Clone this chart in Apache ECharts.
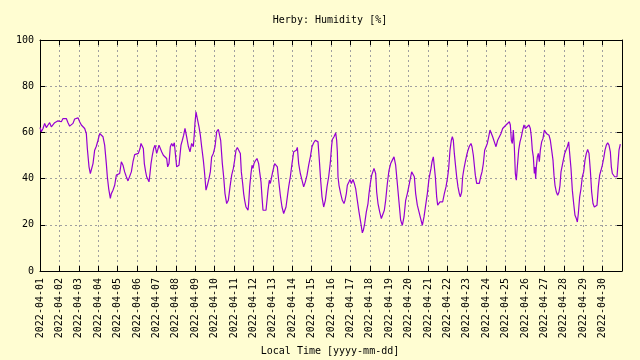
<!DOCTYPE html>
<html><head><meta charset="utf-8">
<script src="https://cdn.jsdelivr.net/npm/echarts@6/dist/echarts.min.js"></script>
<style>html,body{margin:0;padding:0;background:#fffdd2}#c{width:640px;height:360px}</style>
</head><body><div id="c"></div>
<script>
const chartTitle = 'Herby: Humidity [%]';
const xAxisTitle = 'Local Time [yyyy-mm-dd]';
const dateLabels = ['2022-04-01','2022-04-02','2022-04-03','2022-04-04','2022-04-05','2022-04-06','2022-04-07','2022-04-08','2022-04-09','2022-04-10','2022-04-11','2022-04-12','2022-04-13','2022-04-14','2022-04-15','2022-04-16','2022-04-17','2022-04-18','2022-04-19','2022-04-20','2022-04-21','2022-04-22','2022-04-23','2022-04-24','2022-04-25','2022-04-26','2022-04-27','2022-04-28','2022-04-29','2022-04-30'];
const yTicks = [0, 20, 40, 60, 80, 100];
// time in days since 2022-04-01 00:00
const days = [
0,0.069,0.155,0.24,0.326,0.412,0.498,0.584,0.67,0.756,0.842,0.928,1.014,1.1,1.186,1.272,1.357,1.443,1.529,1.615,1.701,1.787,1.873,1.959,2.045,2.131,2.217,2.303,2.388,2.44,2.474,2.526,2.595,2.68,2.732,2.818,2.904,2.99,3.076,3.162,3.248,3.333,3.419,3.471,3.54,3.626,3.677,3.763,3.849,3.935,4.021,4.107,4.193,4.278,4.364,4.45,4.536,4.622,4.708,4.794,4.88,4.966,
5.069,5.155,5.206,5.275,5.327,5.378,5.447,5.498,5.55,5.619,5.67,5.722,5.79,5.859,5.928,6.014,6.065,6.134,6.203,6.271,6.357,6.443,6.529,6.581,6.649,6.718,6.787,6.856,6.924,6.976,7.045,7.096,7.165,7.216,7.268,7.337,7.405,7.474,7.56,7.646,7.732,7.818,7.904,7.955,7.99,8.041,8.11,8.196,8.265,8.333,8.419,8.471,8.557,8.626,8.711,8.78,8.849,8.935,9.021,9.107,9.193,9.244,9.313,9.399,9.467,9.536,9.622,9.708,9.794,9.88,9.966,
10.034,10.103,10.172,10.275,10.327,10.378,10.447,10.498,10.55,10.619,10.67,10.722,10.756,10.808,10.876,10.928,10.979,11.031,11.1,11.186,11.271,11.323,11.392,11.443,11.495,11.564,11.65,11.701,11.753,11.821,11.873,11.924,11.993,12.045,12.096,12.165,12.234,12.302,12.388,12.474,12.56,12.612,12.68,12.749,12.818,12.904,12.99,13.076,13.127,13.213,13.265,13.333,13.419,13.505,13.591,13.677,13.763,13.849,13.935,14.021,14.107,14.193,14.278,14.33,14.399,14.467,14.536,14.622,14.708,14.794,14.88,14.966,15.03,
15.069,15.155,15.241,15.292,15.327,15.361,15.412,15.498,15.584,15.67,15.722,15.79,15.842,15.928,15.979,16.048,16.134,16.203,16.271,16.357,16.443,16.529,16.615,16.667,16.735,16.821,16.907,16.959,17.028,17.096,17.165,17.216,17.268,17.302,17.354,17.423,17.509,17.595,17.68,17.749,17.818,17.904,17.99,18.076,18.162,18.247,18.333,18.419,18.505,18.591,18.677,18.763,18.849,18.935,19.021,19.107,19.158,19.227,19.296,19.364,19.45,19.536,19.622,19.708,19.794,19.88,19.966,20.052,
20.155,20.206,20.275,20.327,20.378,20.447,20.498,20.55,20.619,20.687,20.756,20.842,20.928,21.014,21.065,21.134,21.203,21.254,21.306,21.357,21.409,21.478,21.546,21.615,21.667,21.735,21.787,21.856,21.924,21.993,22.062,22.131,22.216,22.268,22.337,22.388,22.44,22.509,22.577,22.646,22.715,22.784,22.852,22.921,22.99,23.058,23.127,23.196,23.265,23.333,23.419,23.505,23.591,23.677,23.763,23.849,23.935,24.021,24.107,24.193,24.244,24.296,24.347,24.399,24.45,24.502,24.553,24.605,24.674,24.742,24.811,24.88,24.948,25.017,
25.103,25.206,25.275,25.327,25.378,25.43,25.481,25.515,25.55,25.584,25.636,25.687,25.739,25.79,25.859,25.928,25.997,26.048,26.1,26.168,26.237,26.306,26.375,26.443,26.495,26.546,26.615,26.684,26.753,26.804,26.856,26.924,26.993,27.045,27.113,27.182,27.251,27.32,27.371,27.44,27.509,27.577,27.646,27.698,27.749,27.818,27.887,27.955,28.024,28.093,28.162,28.23,28.299,28.368,28.436,28.505,28.574,28.643,28.711,28.78,28.849,28.918,28.986,29.055,29.124,29.192,29.261,29.33,29.399,29.45,29.502,29.571,29.622,29.674,29.742,29.794,29.845,29.914,29.948
];
const humidity = [
62.1,60.3,61.7,63.9,62.1,63.2,64.2,62.4,62.7,64.2,65.0,65.0,64.2,64.6,66.0,66.8,66.0,64.2,62.7,63.2,63.9,65.8,66.0,66.3,64.6,63.2,63.6,61.7,59.5,53.0,52.3,45.1,42.2,42.5,46.5,52.3,54.0,56.6,59.5,59.8,58.1,54.5,46.5,40.8,35.7,31.4,33.5,35.0,37.1,41.5,42.2,42.2,47.3,45.8,42.9,40.8,39.0,39.3,42.9,47.3,50.4,50.1,
50.9,53.0,55.2,55.2,53.0,46.5,42.9,40.8,41.5,38.6,42.2,46.5,50.1,53.0,54.5,50.9,52.3,54.5,54.9,51.6,50.1,50.9,48.7,45.1,46.5,53.8,55.2,54.0,55.5,50.9,45.1,44.4,45.8,50.1,54.5,56.6,58.8,61.7,58.1,54.0,51.6,55.2,53.8,59.5,64.2,68.9,66.0,62.4,58.8,53.8,48.0,43.6,35.0,37.1,40.0,42.9,49.4,50.9,53.8,60.3,61.3,61.7,56.6,46.5,40.8,33.5,29.2,30.6,36.4,41.5,44.4,
48.0,52.3,53.5,54.3,50.9,42.9,37.9,33.5,30.6,27.7,27.0,26.3,29.2,36.4,42.2,45.8,44.4,46.5,47.7,48.7,46.5,42.9,38.6,32.1,26.3,25.6,26.3,30.6,35.0,39.3,37.9,40.0,42.9,42.9,46.5,45.8,45.1,39.3,32.8,27.7,24.9,25.6,27.7,32.1,36.4,40.8,46.5,51.6,52.3,52.3,53.5,46.5,42.2,39.3,36.4,38.6,41.5,45.8,49.4,53.8,55.5,56.6,57.4,55.9,48.0,39.3,32.1,27.7,30.6,36.4,40.8,47.0,54.0,
56.9,58.1,59.8,56.6,51.6,40.8,37.1,33.5,30.6,29.2,30.6,33.5,37.1,38.6,39.6,37.9,39.6,37.9,35.7,30.6,25.6,21.2,16.5,17.6,20.5,25.6,29.2,33.5,37.9,41.5,42.2,44.4,45.1,42.2,34.2,29.2,25.6,22.7,22.7,26.3,30.6,37.9,43.6,46.5,48.0,49.4,45.8,37.9,29.9,22.0,19.8,23.4,30.6,33.5,37.1,37.9,42.9,43.6,40.8,33.5,28.5,25.6,22.7,19.8,23.4,28.5,33.5,40.0,
44.4,47.3,49.4,45.1,40.8,32.1,28.5,28.5,29.9,30.6,29.9,33.5,36.4,40.8,44.4,52.3,56.6,58.1,56.6,50.9,46.5,40.8,36.4,33.5,32.1,34.2,40.8,44.4,47.3,50.1,52.3,54.0,55.2,53.8,50.1,45.8,41.5,37.9,38.6,37.9,40.8,42.9,46.5,52.3,51.6,55.2,58.1,61.0,61.7,58.1,55.9,53.8,56.6,57.4,59.5,61.7,62.1,63.2,63.9,64.6,63.2,56.6,55.2,61.0,53.8,42.2,39.3,45.1,52.3,55.9,58.1,61.0,63.2,61.7,
61.7,63.2,61.7,58.1,52.3,49.4,42.2,45.0,40.0,45.1,49.4,50.9,47.3,52.3,55.9,57.4,61.0,61.7,59.5,60.3,58.8,56.6,52.3,48.0,41.5,37.1,34.2,32.8,34.2,37.1,42.9,45.8,46.5,50.9,51.6,53.8,55.9,55.2,44.4,35.0,29.2,24.1,22.7,21.2,24.9,32.1,35.7,40.8,42.9,48.0,50.9,52.6,50.9,43.6,34.2,29.2,27.7,27.0,28.5,36.4,41.5,43.6,45.8,48.7,52.3,54.5,55.5,54.5,51.6,45.1,42.2,42.9,40.8,41.5,40.8,46.5,52.3,54.9,54.9
];

const seriesData = days.map((d, i) => [d, humidity[i]]);
const FONT = 'DejaVu Sans Mono';
const chart = echarts.init(document.getElementById('c'), null, {renderer: 'canvas'});
const gridLine = {show: true, lineStyle: {color: '#a0a0a0', width: 1, type: [2, 3]}};
chart.setOption({
  backgroundColor: '#fffdd2',
  animation: false,
  grid: {left: 40, right: 18, top: 40, bottom: 89, show: false},
  graphic: [
    {type: 'text', x: 330, y: 20, style: {text: chartTitle, align: 'center', verticalAlign: 'middle', fontFamily: FONT, fontSize: 10, fill: '#000'}},
    {type: 'text', x: 330, y: 351, style: {text: xAxisTitle, align: 'center', verticalAlign: 'middle', fontFamily: FONT, fontSize: 10, fill: '#000'}}
  ],
  xAxis: [
    {type: 'value', min: 0, max: dateLabels.length, interval: 1, position: 'bottom',
     axisLine: {show: true, onZero: false, lineStyle: {color: '#000', width: 1}},
     axisTick: {show: true, inside: true, length: 5, lineStyle: {color: '#000'}},
     axisLabel: {rotate: 90, margin: 7, fontFamily: FONT, fontSize: 10, color: '#000', showMaxLabel: false,
       formatter: v => dateLabels[Math.round(v)] || ''},
     splitLine: gridLine},
    {type: 'value', min: 0, max: dateLabels.length, interval: 1, position: 'top',
     axisLine: {show: true, onZero: false, lineStyle: {color: '#000', width: 1}},
     axisTick: {show: true, inside: true, length: 5, lineStyle: {color: '#000'}},
     axisLabel: {show: false}, splitLine: {show: false}}
  ],
  yAxis: [
    {type: 'value', min: yTicks[0], max: yTicks[yTicks.length - 1], interval: yTicks[1] - yTicks[0], position: 'left',
     axisLine: {show: true, onZero: false, lineStyle: {color: '#000', width: 1}},
     axisTick: {show: true, inside: true, length: 5, lineStyle: {color: '#000'}},
     axisLabel: {margin: 6, fontFamily: FONT, fontSize: 10, color: '#000'},
     splitLine: gridLine},
    {type: 'value', min: yTicks[0], max: yTicks[yTicks.length - 1], interval: yTicks[1] - yTicks[0], position: 'right',
     axisLine: {show: true, onZero: false, lineStyle: {color: '#000', width: 1}},
     axisTick: {show: true, inside: true, length: 5, lineStyle: {color: '#000'}},
     axisLabel: {show: false}, splitLine: {show: false}}
  ],
  series: [{
    type: 'line', data: seriesData, xAxisIndex: 0, yAxisIndex: 0,
    showSymbol: false, symbol: 'none', smooth: false,
    lineStyle: {color: '#9400d3', width: 1.2}
  }]
});
</script>
</body></html>
